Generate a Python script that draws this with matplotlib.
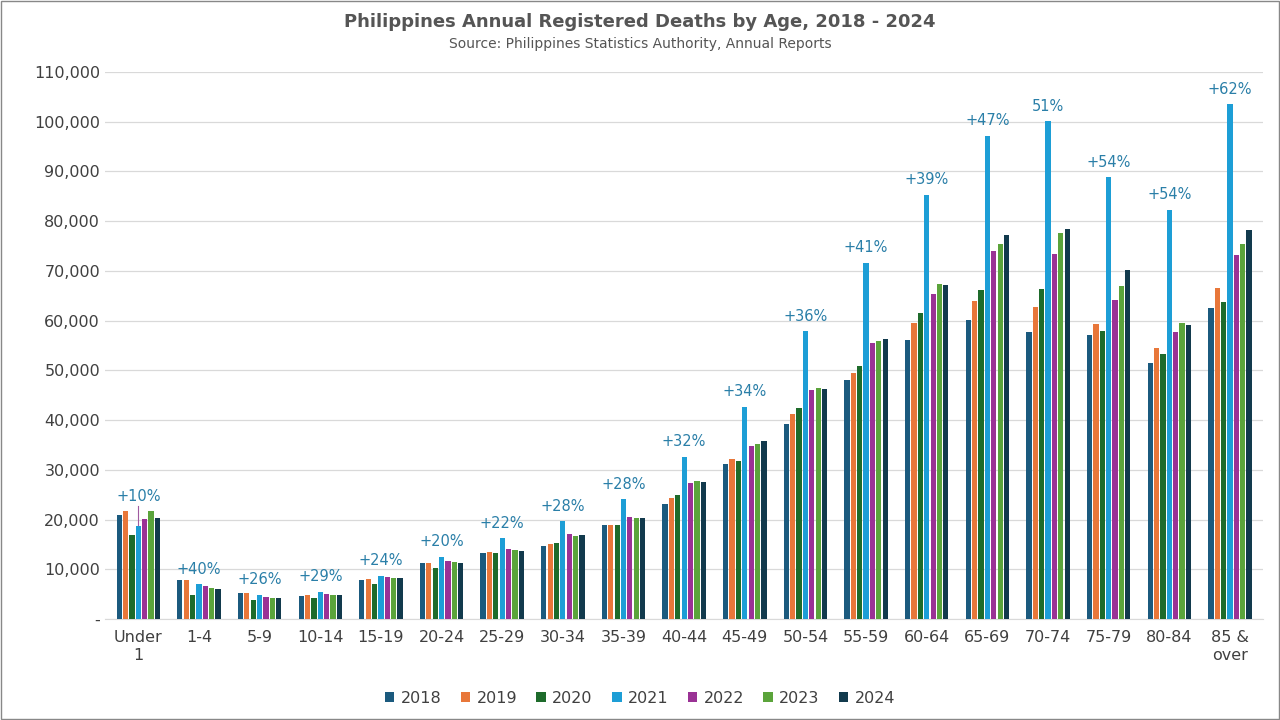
import matplotlib
matplotlib.use("Agg")
import matplotlib.pyplot as plt
import numpy as np
from matplotlib.ticker import FuncFormatter

ages = ["Under\n1","1-4","5-9","10-14","15-19","20-24","25-29","30-34","35-39","40-44",
        "45-49","50-54","55-59","60-64","65-69","70-74","75-79","80-84","85 &\nover"]
years = ["2018","2019","2020","2021","2022","2023","2024"]
d2018 = [21000,7800,5300,4700,7800,11200,13300,14700,18900,23200,31200,39300,48000,56100,60200,57800,57200,51600,62500]
d2019 = [21700,7800,5300,4900,8000,11200,13500,15200,19000,24300,32300,41300,49500,59500,64000,62700,59400,54600,66500]
d2020 = [16900,4900,3800,4300,7100,10300,13300,15300,18900,25000,31800,42400,50800,61500,66200,66300,58000,53400,63700]
d2021 = [18700,7000,4900,5500,8700,12600,16300,19700,24100,32700,42700,57900,71700,85300,97200,100100,88900,82300,103500]
d2022 = [20100,6700,4400,5100,8500,11600,14100,17100,20500,27400,34800,46100,55600,65400,74000,73400,64200,57800,73200]
d2023 = [21700,6300,4300,4900,8300,11400,14000,16800,20300,27800,35200,46500,56000,67300,75400,77700,66900,59600,75400]
d2024 = [20400,6100,4300,4900,8300,11200,13700,16900,20400,27600,35800,46200,56400,67200,77200,78400,70100,59200,78200]
pct = ["+10%","+40%","+26%","+29%","+24%","+20%","+22%","+28%","+28%","+32%","+34%","+36%",
       "+41%","+39%","+47%","51%","+54%","+54%","+62%"]
series = [d2018,d2019,d2020,d2021,d2022,d2023,d2024]
colors = ["#1b5a7e","#e8773a","#1e6b2b","#1d9ed6","#9a3295","#5ba43b","#123a4d"]

fig = plt.figure(figsize=(12.8,7.2), dpi=100)
ax = fig.add_axes([0.082,0.14,0.905,0.76])
x = np.arange(len(ages))
w = 0.105
for i,(s,c,y) in enumerate(zip(series,colors,years)):
    ax.bar(x+(i-3)*w*1.0, s, w*0.82, color=c, label=y, zorder=3)
for xi,(v,p) in enumerate(zip(d2021,pct)):
    if xi == 0:
        ax.plot([xi,xi],[v+300,v+4000],color="#a05aa0",lw=0.8,zorder=4)
        ax.text(xi,v+4500,p,ha="center",va="bottom",fontsize=10.5,color="#2a7fa8")
    else:
        ax.text(xi,v+1500,p,ha="center",va="bottom",fontsize=10.5,color="#2a7fa8")
ax.set_ylim(0,110000)
ax.set_yticks(np.arange(0,110001,10000))
ax.yaxis.set_major_formatter(FuncFormatter(lambda v,_: "-" if v==0 else f"{int(v):,}"))
ax.set_xticks(x)
ax.set_xticklabels(ages)
ax.set_xlim(-0.55,len(ages)-0.45)
ax.tick_params(axis="both",length=0,labelsize=11.5,colors="#404040")
ax.tick_params(axis="x",pad=8)
ax.grid(axis="y",color="#d9d9d9",lw=0.9,zorder=0)
for sp in ["top","right","left"]:
    ax.spines[sp].set_visible(False)
ax.spines["bottom"].set_color("#d9d9d9")
fig.text(0.5,0.962,"Philippines Annual Registered Deaths by Age, 2018 - 2024",ha="center",
         fontsize=13,fontweight="bold",color="#555555")
fig.text(0.5,0.933,"Source: Philippines Statistics Authority, Annual Reports",ha="center",
         fontsize=10,color="#555555")
fig.legend(loc="lower center",bbox_to_anchor=(0.5,0.0),ncol=7,frameon=False,fontsize=11.5,
           handlelength=0.6,handleheight=0.6,columnspacing=1.2,handletextpad=0.4,labelcolor="#404040")
fig.patches.append(plt.Rectangle((0.001,0.001),0.998,0.998,transform=fig.transFigure,fill=False,
                                 edgecolor="#888888",lw=1))
fig.savefig("out.png")
